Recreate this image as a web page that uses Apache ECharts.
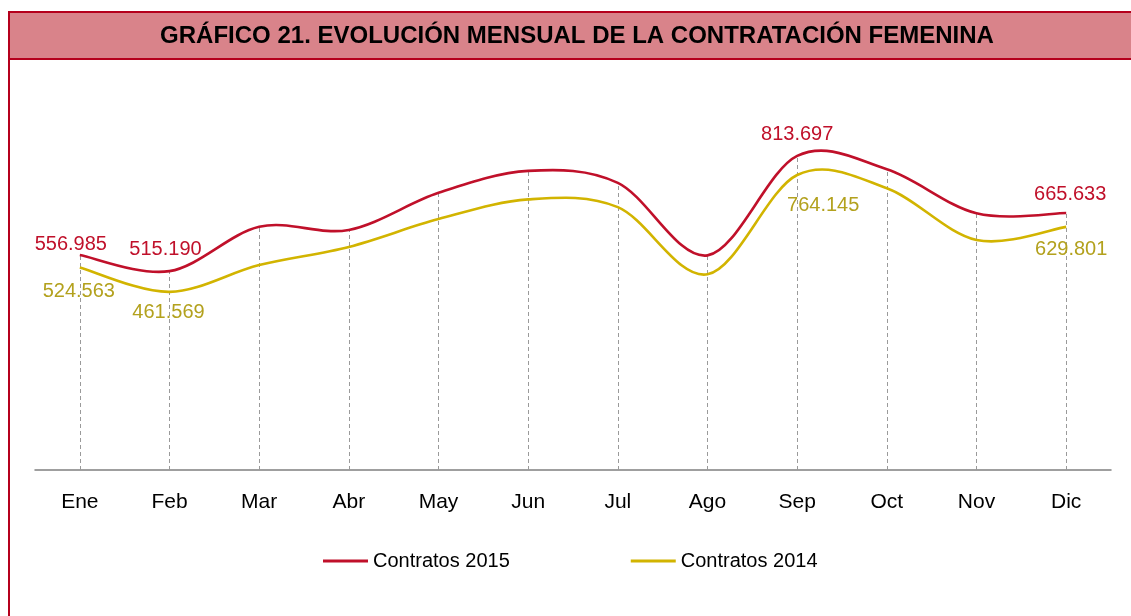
<!DOCTYPE html>
<html>
<head>
<meta charset="utf-8">
<script src="https://cdn.jsdelivr.net/npm/echarts@6/dist/echarts.min.js"></script>
<style>html,body{margin:0;padding:0;background:#fff;}#c{width:1131px;height:616px;}</style>
</head>
<body>
<div id="c"></div>
<script>
var titleText = 'GRÁFICO 21. EVOLUCIÓN MENSUAL DE LA CONTRATACIÓN FEMENINA';
var categories = ['Ene','Feb','Mar','Abr','May','Jun','Jul','Ago','Sep','Oct','Nov','Dic'];
var seriesNames = ['Contratos 2015','Contratos 2014'];
var contratos2015 = [556985, 515190, 630000, 622000, 718000, 775000, 744000, 556000, 813697, 779000, 665000, 665633];
var contratos2014 = [524563, 461569, 531000, 578000, 650000, 701000, 681000, 507000, 764145, 730000, 596000, 629801];
var labelledMonths = ['Ene','Feb','Sep','Dic'];

var FONT = 'Liberation Sans, Arial, sans-serif';
var RED = '#c0102a';
var YEL = '#d2b400';
var YEL_TXT = '#b3a11d';

function fmt(v){ return String(v).replace(/\B(?=(\d{3})+(?!\d))/g, '.'); }

var offs2015 = {Ene:[-9,4], Feb:[-4,-7], Sep:[0,-6], Dic:[4,-4]};
var offs2014 = {Ene:[-1,9], Feb:[-1,6], Sep:[26,15], Dic:[5,8]};

function buildData(vals, pos, offs, color){
  return vals.map(function(v,i){
    var c = categories[i];
    var item = {value: v};
    if (labelledMonths.indexOf(c) >= 0) {
      item.label = {show:true, position:pos, distance:5, offset:offs[c], color:color,
        fontSize:20, fontFamily:FONT, formatter:function(p){return fmt(p.value);}};
    }
    return item;
  });
}

var dropLines = contratos2015.map(function(v,i){
  var hi = Math.max(v, contratos2014[i]);
  return [{coord:[i,0]},{coord:[i,hi]}];
});

// Catmull-Rom style smooth curve through the points, positioned by the chart's own axes
function curveSeries(vals, color){
  return {
    type:'custom', coordinateSystem:'cartesian2d', silent:true, z:4,
    data: vals.map(function(v,i){ return [i, v]; }),
    encode:{x:0, y:1},
    renderItem:function(params, api){
      if (params.dataIndex !== 0) return null;
      var pts = vals.map(function(v,i){ return api.coord([i, v]); });
      var n = pts.length, d = 'M' + pts[0][0] + ' ' + pts[0][1];
      for (var i = 0; i < n - 1; i++) {
        var p0 = pts[Math.max(i-1,0)], p1 = pts[i], p2 = pts[i+1], p3 = pts[Math.min(i+2,n-1)];
        var c1x = p1[0] + (p2[0]-p0[0])/6, c1y = p1[1] + (p2[1]-p0[1])/6;
        var c2x = p2[0] - (p3[0]-p1[0])/6, c2y = p2[1] - (p3[1]-p1[1])/6;
        d += ' C' + c1x + ' ' + c1y + ' ' + c2x + ' ' + c2y + ' ' + p2[0] + ' ' + p2[1];
      }
      return {type:'path', shape:{pathData:d}, style:{fill:'none', stroke:color, lineWidth:2.6}};
    }
  };
}

var chart = echarts.init(document.getElementById('c'), null, {renderer:'canvas'});
chart.setOption({
  animation:false,
  backgroundColor:'#fff',
  graphic:[
    {type:'rect', shape:{x:9,y:12,width:1140,height:620}, style:{fill:'none', stroke:'#b5001c', lineWidth:2}, z:100},
    {type:'rect', shape:{x:9,y:12,width:1140,height:47}, style:{fill:'#d9838a', stroke:'#b5001c', lineWidth:2}, z:99},
    {type:'text', x:577, y:36, z:101, style:{text:titleText, fill:'#000', font:'bold 24px Liberation Sans, Arial, sans-serif', textAlign:'center', textVerticalAlign:'middle'}}
  ],
  legend:{
    left:318, top:546, itemWidth:45, itemHeight:3, itemGap:121, icon:'rect',
    textStyle:{fontSize:20, fontFamily:FONT, color:'#000'},
    data:[{name:seriesNames[0], itemStyle:{color:RED, opacity:1}},
          {name:seriesNames[1], itemStyle:{color:YEL, opacity:1}}]
  },
  grid:{left:35, right:20, top:84, bottom:146},
  xAxis:{
    type:'category', data:categories, boundaryGap:true,
    axisLine:{show:true, lineStyle:{color:'#808080', width:1.5}},
    axisTick:{show:false},
    axisLabel:{color:'#000', fontSize:21, fontFamily:FONT, margin:22},
    splitLine:{show:false}
  },
  yAxis:{type:'value', min:0, max:1000000, show:false, splitLine:{show:false}},
  series:[
    {
      name:seriesNames[0], type:'line', symbol:'circle', symbolSize:0, showSymbol:true,
      itemStyle:{color:RED},
      lineStyle:{color:RED, width:0, opacity:0},
      data:buildData(contratos2015,'top',offs2015,RED),
      z:5,
      markLine:{silent:true, symbol:['none','none'], label:{show:false},
        lineStyle:{color:'#9a9a9a', type:[4,3], width:1, opacity:1}, data:dropLines, z:1}
    },
    {
      name:seriesNames[1], type:'line', symbol:'circle', symbolSize:0, showSymbol:true,
      itemStyle:{color:YEL},
      lineStyle:{color:YEL, width:0, opacity:0},
      data:buildData(contratos2014,'bottom',offs2014,YEL_TXT),
      z:5
    },
    curveSeries(contratos2015, RED),
    curveSeries(contratos2014, YEL)
  ]
});
</script>
</body>
</html>
